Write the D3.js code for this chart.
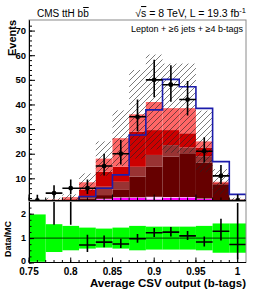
<!DOCTYPE html>
<html>
<head>
<meta charset="utf-8">
<script src="https://cdn.jsdelivr.net/npm/d3@7"></script>
<style>
  body { margin: 0; background: #fff; }
  text { font-family: "Liberation Sans", Arial, Helvetica, sans-serif; }
</style>
</head>
<body>
<script>
// bins of the average CSV discriminant
const binEdges = [0.75, 0.77, 0.79, 0.81, 0.83, 0.85, 0.87, 0.89, 0.91, 0.93, 0.95, 0.97, 0.99, 1.01];

// stacked backgrounds, bottom to top
const ewk       = [0.005, 0.1, 0.2, 0.3, 0.5, 0.8, 0.8, 1.2, 0.8, 0.8, 0.6, 0.3, 0.02];
const singleTop = [0.01, 0.2, 0.3, 0.5, 1.0, 1.3, 1.3, 0.3, 1.3, 1.4, 1.0, 0.3, 0.03];
const ttV       = [0.0, 0.05, 0.1, 0.1, 0.2, 0.2, 0.2, 1.0, 0.3, 0.2, 0.2, 0.1, 0.02];
const ttbb      = [0.01, 0.25, 0.45, 0.9, 1.5, 3.0, 8.4, 12.2, 16.4, 17.8, 14.5, 6.6, 1.0];
const ttb       = [0.01, 0.2, 0.3, 0.8, 3.4, 3.3, 4.0, 4.8, 4.7, 2.3, 2.7, 0.5, 0.1];
const ttcc      = [0.005, 0.25, 0.4, 2.7, 6.1, 6.1, 14.3, 10.1, 6.1, 5.8, 3.5, 0.5, 0.1];
const ttlf      = [0.01, 0.3, 0.6, 3.1, 5.3, 11.6, 7.0, 11.4, 8.9, 10.2, 2.5, 0.3, 0.08];

// signal (scaled), drawn as a line
const ttH = [0.3, 0.5, 0.9, 2.6, 6.0, 11.4, 27.6, 37.8, 50.2, 47.2, 38.4, 16.8, 3.5];

// observed events
const data = [1, 4, 6, 6, 15, 20, 35, 50, 48, 42, 21, 11, 1];

// relative MC uncertainty per bin (hatched band / green band)
const mcRelUnc = [0.97, 0.57, 0.5, 0.43, 0.39, 0.43, 0.5, 0.47, 0.47, 0.47, 0.5, 0.6, 0.6];

const xTickLabels = ["0.75", "0.8", "0.85", "0.9", "0.95", "1"];
const yTickLabels = ["10", "20", "30", "40", "50", "60", "70"];
const rTickLabels = ["0", "1", "2"];

const keys = ["ewk", "singleTop", "ttV", "ttbb", "ttb", "ttcc", "ttlf"];
const colors = {
    ewk: "#3d7fd9", singleTop: "#ff00ff", ttV: "#ffccff",
    ttbb: "#660000", ttb: "#993333", ttcc: "#cc0000", ttlf: "#ff6666"
};

const rows = data.map((d, i) => ({
    lo: binEdges[i], hi: binEdges[i + 1],
    ewk: ewk[i], singleTop: singleTop[i], ttV: ttV[i],
    ttbb: ttbb[i], ttb: ttb[i], ttcc: ttcc[i], ttlf: ttlf[i],
    data: d, sig: ttH[i], rel: mcRelUnc[i]
}));
rows.forEach(r => { r.mc = d3.sum(keys, k => r[k]); });

// Poisson 68% interval (Wilson-Hilferty approx of the Garwood interval)
const poisLo = n => n === 0 ? 0 : n * Math.pow(1 - 1 / (9 * n) - 1 / (3 * Math.sqrt(n)), 3);
const poisUp = n => (n + 1) * Math.pow(1 - 1 / (9 * (n + 1)) + 1 / (3 * Math.sqrt(n + 1)), 3);

const width = 258, height = 290;
const svg = d3.select("body").append("svg")
    .attr("width", width)
    .attr("height", height);

const x = d3.scaleLinear().domain([0.75, 1.01]).range([29, 246]);
const y = d3.scaleLinear().domain([1, 74.3]).range([200.5, 20]);
const yr = d3.scaleLinear().domain([0, 2.5]).range([262.5, 201.5]);

const defs = svg.append("defs");
const pat = defs.append("pattern")
    .attr("id", "hatch")
    .attr("patternUnits", "userSpaceOnUse")
    .attr("width", 6).attr("height", 6);
pat.append("path")
    .attr("d", "M-1,1 l2,-2 M0,6 l6,-6 M5,7 l2,-2")
    .attr("stroke", "#222").attr("stroke-width", 0.6);

defs.append("clipPath").attr("id", "clipTop")
  .append("rect").attr("x", 29).attr("y", 20).attr("width", 217).attr("height", 180.5);
defs.append("clipPath").attr("id", "clipRat")
  .append("rect").attr("x", 29).attr("y", 201.5).attr("width", 217).attr("height", 61);

// ---------- upper panel ----------
const upper = svg.append("g").attr("clip-path", "url(#clipTop)");

const series = d3.stack().keys(keys)(rows);
upper.selectAll("g.layer")
    .data(series)
    .join("g")
        .attr("class", "layer")
        .attr("fill", s => colors[s.key])
    .selectAll("rect")
    .data(s => s)
    .join("rect")
        .attr("x", d => x(d.data.lo))
        .attr("width", d => x(d.data.hi) - x(d.data.lo))
        .attr("y", d => y(d[1]))
        .attr("height", d => Math.max(0, y(d[0]) - y(d[1])));

// MC uncertainty band
upper.append("g").selectAll("rect")
    .data(rows)
    .join("rect")
        .attr("x", d => x(d.lo))
        .attr("width", d => x(d.hi) - x(d.lo))
        .attr("y", d => y(d.mc * (1 + d.rel)))
        .attr("height", d => y(Math.max(0, d.mc * (1 - d.rel))) - y(d.mc * (1 + d.rel)))
        .attr("fill", "url(#hatch)");

// signal outline
const sigPts = [[binEdges[0], 0]];
rows.forEach(r => { sigPts.push([r.lo, r.sig]); sigPts.push([r.hi, r.sig]); });
sigPts.push([binEdges[binEdges.length - 1], 0]);
upper.append("path")
    .attr("d", d3.line().x(d => x(d[0])).y(d => y(d[1]))(sigPts))
    .attr("fill", "none")
    .attr("stroke", "#1c1cab")
    .attr("stroke-width", 1.6);

// data points
const pts = upper.append("g").attr("stroke", "#000").attr("stroke-width", 1.6);
rows.forEach(r => {
    const cx = x((r.lo + r.hi) / 2);
    pts.append("line").attr("x1", x(r.lo)).attr("x2", x(r.hi)).attr("y1", y(r.data)).attr("y2", y(r.data));
    pts.append("line").attr("x1", cx).attr("x2", cx)
        .attr("y1", y(poisLo(r.data))).attr("y2", y(poisUp(r.data)));
    pts.append("circle").attr("cx", cx).attr("cy", y(r.data)).attr("r", 2.4).attr("fill", "#000").attr("stroke", "none");
});

// frame + axes of upper panel
svg.append("rect").attr("x", 29).attr("y", 20).attr("width", 217).attr("height", 180.5)
    .attr("fill", "none").attr("stroke", "#8a8a8a").attr("stroke-width", 1);

const yAxis = d3.axisLeft(y)
    .tickValues(yTickLabels.map(Number))
    .tickFormat((d, i) => yTickLabels[i])
    .tickSizeInner(-6).tickSizeOuter(0).tickPadding(3);
const yMinor = d3.axisLeft(y).tickValues(d3.range(2, 74, 2)).tickFormat("").tickSizeInner(-3).tickSizeOuter(0);
svg.append("g").attr("transform", "translate(29,0)").call(yMinor);
const ya = svg.append("g").attr("transform", "translate(29,0)").call(yAxis);
ya.selectAll("text").attr("font-size", 9.5).attr("font-weight", "bold");
svg.selectAll(".domain").attr("stroke", "#000");

const xMinorVals = d3.range(0, 26).map(i => 0.75 + 0.01 * i);
const xMajorVals = xTickLabels.map(Number);
function xTicks(g, y0, lenMaj, lenMin) {
    g.append("line").attr("x1", 29).attr("x2", 246).attr("y1", y0).attr("y2", y0).attr("stroke", "#000");
    g.selectAll("line.mn").data(xMinorVals).join("line").attr("class", "mn")
        .attr("x1", d => x(d)).attr("x2", d => x(d)).attr("y1", y0).attr("y2", y0 - lenMin).attr("stroke", "#000");
    g.selectAll("line.mj").data(xMajorVals).join("line").attr("class", "mj")
        .attr("x1", d => x(d)).attr("x2", d => x(d)).attr("y1", y0).attr("y2", y0 - lenMaj).attr("stroke", "#000");
}
xTicks(svg.append("g"), 200.5, 6, 3);

// ---------- ratio panel ----------
const rat = svg.append("g").attr("clip-path", "url(#clipRat)");
rat.append("g").selectAll("rect")
    .data(rows)
    .join("rect")
        .attr("x", d => x(d.lo))
        .attr("width", d => x(d.hi) - x(d.lo))
        .attr("y", d => yr(1 + d.rel))
        .attr("height", d => yr(1 - d.rel) - yr(1 + d.rel))
        .attr("fill", "#00ff00");
rat.append("line").attr("x1", 29).attr("x2", 246).attr("y1", yr(1)).attr("y2", yr(1))
    .attr("stroke", "#000").attr("stroke-width", 0.8);
const rp = rat.append("g").attr("stroke", "#000").attr("stroke-width", 1.6);
rows.forEach(r => {
    const cx = x((r.lo + r.hi) / 2);
    const v = r.data / r.mc;
    rp.append("line").attr("x1", x(r.lo)).attr("x2", x(r.hi)).attr("y1", yr(v)).attr("y2", yr(v));
    rp.append("line").attr("x1", cx).attr("x2", cx)
        .attr("y1", yr(poisLo(r.data) / r.mc)).attr("y2", yr(poisUp(r.data) / r.mc));
});

svg.append("rect").attr("x", 29).attr("y", 201.5).attr("width", 217).attr("height", 61)
    .attr("fill", "none").attr("stroke", "#8a8a8a").attr("stroke-width", 1);

const rAxis = d3.axisLeft(yr)
    .tickValues(rTickLabels.map(Number))
    .tickFormat((d, i) => rTickLabels[i])
    .tickSizeInner(-5).tickSizeOuter(0).tickPadding(3);
const rMinor = d3.axisLeft(yr).tickValues(d3.range(0, 2.5, 0.25)).tickFormat("").tickSizeInner(-2.5).tickSizeOuter(0);
svg.append("g").attr("transform", "translate(29,0)").call(rMinor);
const ra = svg.append("g").attr("transform", "translate(29,0)").call(rAxis);
ra.selectAll("text").attr("font-size", 9).attr("font-weight", "bold");
ra.selectAll(".tick").filter(d => d === 0).select("text").attr("dy", "0.1em");
svg.selectAll(".domain").attr("stroke", "#000");

const xb = svg.append("g");
xTicks(xb, 262.5, 5, 2.5);
xb.selectAll("text.xl").data(xTickLabels).join("text").attr("class", "xl")
    .attr("x", d => x(+d)).attr("y", 275)
    .attr("text-anchor", "middle")
    .attr("font-size", 10).attr("font-weight", "bold")
    .text(d => d);

// ---------- titles ----------
svg.append("text").attr("x", 246).attr("y", 287).attr("text-anchor", "end")
    .attr("font-size", 11.5).attr("font-weight", "bold")
    .text("Average CSV output (b-tags)");

svg.append("text").attr("transform", "translate(16,20) rotate(-90)")
    .attr("text-anchor", "end").attr("font-size", 11).attr("font-weight", "bold")
    .text("Events");

svg.append("text").attr("transform", "translate(11,239) rotate(-90)")
    .attr("text-anchor", "middle").attr("font-size", 9).attr("font-weight", "bold")
    .text("Data/MC");

const cms = svg.append("text").attr("x", 37).attr("y", 17).attr("font-size", 10);
cms.append("tspan").text("CMS ttH b");
cms.append("tspan").attr("text-decoration", "overline").text("b");

const lumi = svg.append("text").attr("x", 246).attr("y", 17).attr("text-anchor", "end").attr("font-size", 10.5);
lumi.append("tspan").text("\u221A");
lumi.append("tspan").attr("text-decoration", "overline").text("s");
lumi.append("tspan").text(" = 8 TeV, L = 19.3 fb");
lumi.append("tspan").attr("dy", -4).attr("font-size", 7.5).text("-1");

svg.append("text").attr("x", 243).attr("y", 32).attr("text-anchor", "end").attr("font-size", 9)
    .text("Lepton + \u22656 jets + \u22654 b-tags");
</script>
</body>
</html>
